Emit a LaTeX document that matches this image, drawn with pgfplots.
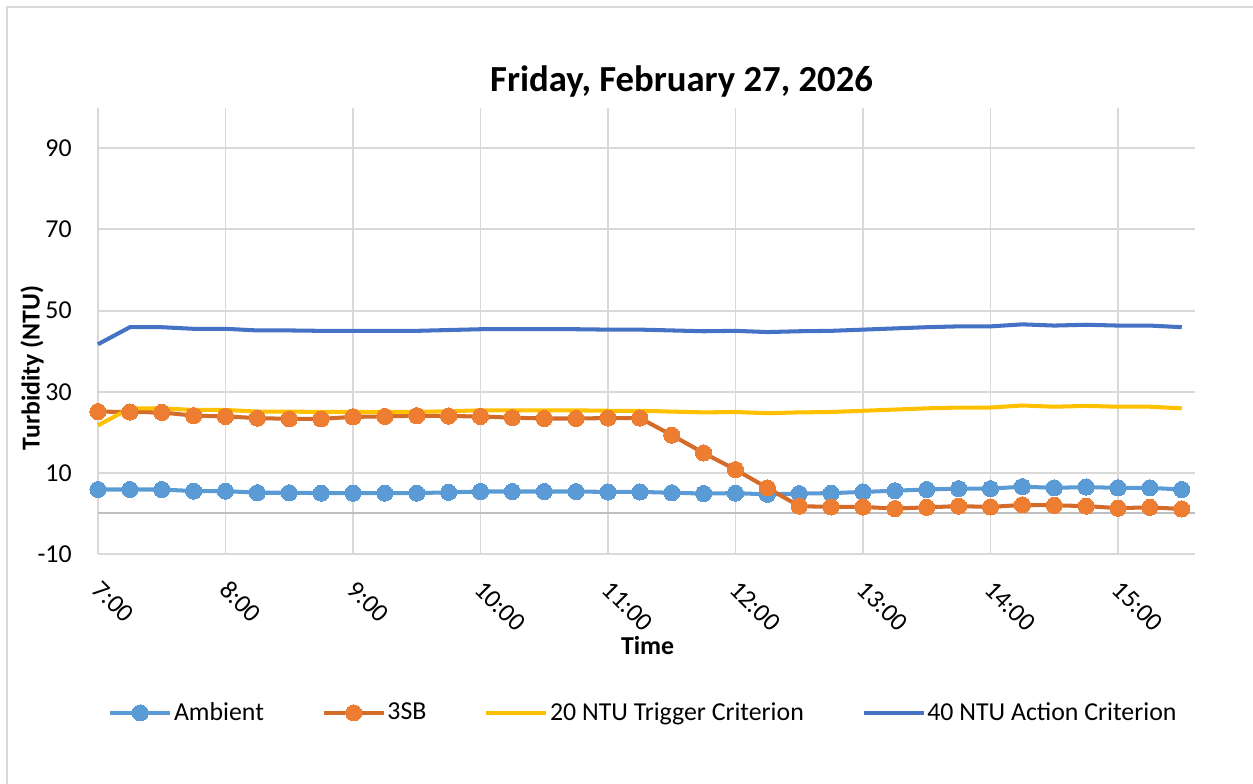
\documentclass[border=0pt]{standalone}
\usepackage{fontspec}
\setmainfont{Carlito}
\usepackage{pgfplots}
\usepackage{pgfplotstable}
\pgfplotsset{compat=1.18}
\definecolor{ambient}{HTML}{5B9BD5}
\definecolor{sbfill}{HTML}{ED7D31}
\definecolor{sbline}{HTML}{D46B29}
\definecolor{trig}{HTML}{FFC000}
\definecolor{act}{HTML}{4472C4}
\definecolor{gridgray}{HTML}{D9D9D9}
\definecolor{zerogray}{HTML}{BFBFBF}

% time in hours, Ambient, 3SB, 20 NTU trigger, 40 NTU action
\pgfplotstableread{
t     amb  sb    trig  act
7.00  5.9  25.1  21.7  41.7
7.25  5.9  25.0  25.9  45.9
7.50  5.9  24.9  25.9  45.9
7.75  5.5  24.1  25.5  45.5
8.00  5.5  23.9  25.5  45.5
8.25  5.1  23.5  25.1  45.1
8.50  5.1  23.3  25.1  45.1
8.75  5.0  23.3  25.0  45.0
9.00  5.0  23.8  25.0  45.0
9.25  5.0  23.9  25.0  45.0
9.50  5.0  24.1  25.0  45.0
9.75  5.2  24.0  25.2  45.2
10.00 5.4  23.9  25.4  45.4
10.25 5.4  23.6  25.4  45.4
10.50 5.4  23.4  25.4  45.4
10.75 5.4  23.4  25.4  45.4
11.00 5.3  23.5  25.3  45.3
11.25 5.3  23.5  25.3  45.3
11.50 5.1  19.3  25.1  45.1
11.75 4.9  14.9  24.9  44.9
12.00 5.0  10.8  25.0  45.0
12.25 4.7  6.3   24.7  44.7
12.50 4.9  1.8   24.9  44.9
12.75 5.0  1.6   25.0  45.0
13.00 5.3  1.6   25.3  45.3
13.25 5.6  1.2   25.6  45.6
13.50 5.9  1.5   25.9  45.9
13.75 6.1  1.8   26.1  46.1
14.00 6.1  1.6   26.1  46.1
14.25 6.6  2.1   26.6  46.6
14.50 6.3  2.0   26.3  46.3
14.75 6.5  1.8   26.5  46.5
15.00 6.3  1.3   26.3  46.3
15.25 6.3  1.5   26.3  46.3
15.50 5.9  1.1   25.9  45.9
}\turbdata

\begin{document}
\begin{tikzpicture}
\begin{axis}[
  scale only axis, width=21.94cm, height=8.926cm,
  xmin=7, xmax=15.604, ymin=-10, ymax=100,
  clip=false,
  axis line style={draw=none},
  tick style={draw=none},
  grid=major,
  major grid style={gridgray, line width=1.1pt},
  xtick={7,8,...,15},
  xticklabels={7:00,8:00,9:00,10:00,11:00,12:00,13:00,14:00,15:00},
  ytick={-10,10,30,50,70,90},
  yticklabels={-10,10,30,50,70,90},
  extra y ticks={0},
  extra y tick labels={},
  extra y tick style={grid=major, major grid style={zerogray, line width=1.1pt}},
  ticklabel style={font=\fontsize{14.7}{17}\selectfont},
  yticklabel style={anchor=east, inner sep=0pt, xshift=-0.52cm},
  % shifts act in the rotated frame
  xticklabel style={rotate=-45, anchor=west, inner sep=0pt, xshift=0.42cm, yshift=-0.46cm},
  legend columns=4,
  legend style={at={(0.497,-0.356)}, anchor=center, draw=none, fill=none,
    font=\fontsize{14.7}{17}\selectfont,
    nodes={inner xsep=1pt},
    /tikz/every even column/.append style={column sep=1.12cm}},
  legend image code/.code={
    \draw[mark repeat=2, mark phase=2, #1] plot coordinates {(0cm,0cm) (0.6cm,0cm) (1.2cm,0cm)};
  },
]
\addplot[ambient, line width=2.3pt, mark=*, mark size=4.6pt,
  mark options={draw=ambient, fill=ambient, line width=0pt}] table[x=t, y=amb] {\turbdata};
\addlegendentry{Ambient}
\addplot[sbline, line width=2.3pt, mark=*, mark size=4.6pt,
  mark options={draw=sbfill, fill=sbfill, line width=0pt}] table[x=t, y=sb] {\turbdata};
\addlegendentry{3SB}
\addplot[trig, line width=2.3pt] table[x=t, y=trig] {\turbdata};
\addlegendentry{20 NTU Trigger Criterion}
\addplot[act, line width=2.3pt] table[x=t, y=act] {\turbdata};
\addlegendentry{40 NTU Action Criterion}
\node[font=\fontsize{20.9}{24}\selectfont\bfseries] at (rel axis cs:0.532,1.058) {Friday, February 27, 2026};
\node[font=\fontsize{14.7}{17}\selectfont\bfseries] at (rel axis cs:0.501,-0.204) {Time};
\node[font=\fontsize{14.7}{17}\selectfont\bfseries, rotate=90] at (rel axis cs:-0.0602,0.417) {Turbidity (NTU)};
\draw[gridgray, line width=1.1pt] (rel axis cs:-0.08295,-0.51535) -- (rel axis cs:-0.08295,1.22563) -- (rel axis cs:1.05287,1.22563);
\coordinate (bbsw) at (rel axis cs:-0.08933,-0.51535);
\coordinate (bbne) at (rel axis cs:1.05287,1.24132);
\end{axis}
\pgfresetboundingbox
\path[use as bounding box] (bbsw) rectangle (bbne);
\end{tikzpicture}
\end{document}
